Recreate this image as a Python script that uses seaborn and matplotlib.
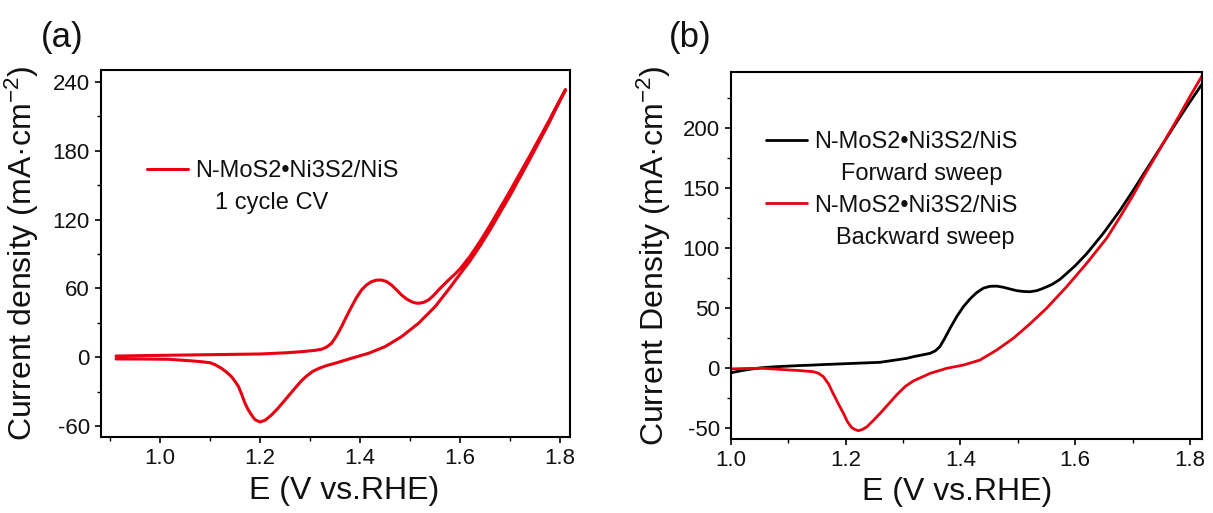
import numpy as np
import pandas as pd
import matplotlib
matplotlib.use("Agg")
import matplotlib.pyplot as plt
import seaborn as sns
from matplotlib.ticker import MultipleLocator, FormatStrFormatter
from matplotlib.lines import Line2D

# ---------------- data: panel (a) 1 cycle CV ----------------
e_fwd_a = [0.912, 0.95, 1.00, 1.05, 1.10, 1.15, 1.20, 1.25, 1.283, 1.31, 1.323, 1.333, 1.343,
           1.353, 1.363, 1.373, 1.383, 1.393, 1.403, 1.413, 1.423, 1.433, 1.443, 1.453, 1.463,
           1.473, 1.483, 1.493, 1.503, 1.51, 1.517, 1.527, 1.537, 1.547, 1.557, 1.567, 1.577,
           1.59, 1.60, 1.62, 1.64, 1.66, 1.68, 1.70, 1.72, 1.74, 1.76, 1.78, 1.795, 1.811]
j_fwd_a = [1.0, 1.3, 1.6, 1.9, 2.2, 2.5, 2.8, 3.8, 4.8, 6.0, 6.9, 8.8, 12.1,
           18.5, 26.6, 35.5, 44.0, 52.0, 58.6, 63.0, 65.9, 67.2, 67.3, 66.0, 63.0,
           58.7, 54.3, 50.8, 48.4, 47.4, 47.0, 47.8, 49.9, 53.8, 58.6, 63.0, 67.3,
           72.5, 77.0, 88.0, 101.0, 115.0, 130.0, 145.0, 160.5, 176.0, 192.0, 208.0, 220.5, 233.5]
e_bwd_a = [1.811, 1.795, 1.78, 1.76, 1.74, 1.72, 1.70, 1.68, 1.66, 1.64, 1.62, 1.60, 1.577,
           1.55, 1.517, 1.483, 1.45, 1.417, 1.383, 1.35, 1.333, 1.317, 1.305, 1.293, 1.283,
           1.27, 1.25, 1.237, 1.223, 1.21, 1.20, 1.19, 1.183, 1.176, 1.17, 1.163, 1.157, 1.15,
           1.143, 1.133, 1.123, 1.11, 1.10, 1.08, 1.057, 1.017, 0.97, 0.912]
j_bwd_a = [233.0, 219.5, 206.0, 189.5, 173.0, 157.0, 141.0, 126.0, 111.0, 97.0, 84.0, 72.5, 59.0,
           44.0, 29.6, 17.9, 9.2, 3.4, -0.9, -5.3, -7.3, -9.9, -12.5, -16.5, -20.5,
           -27.0, -37.3, -44.0, -50.4, -55.0, -56.5, -54.5, -50.4, -45.5, -40.2, -32.0, -25.7, -21.0,
           -17.0, -13.0, -9.7, -6.5, -4.8, -3.8, -3.0, -1.8, -1.6, -1.5]

# ---------------- data: panel (b) forward / backward sweeps ----------------
e_fwd_b = [1.0, 1.02, 1.04, 1.056, 1.085, 1.12, 1.143, 1.16, 1.202, 1.26, 1.306, 1.318, 1.335,
           1.347, 1.356, 1.364, 1.372, 1.382, 1.394, 1.405, 1.417, 1.428, 1.44, 1.451, 1.463,
           1.475, 1.487, 1.498, 1.51, 1.521, 1.533, 1.544, 1.56, 1.573, 1.585, 1.60, 1.62,
           1.649, 1.678, 1.70, 1.72, 1.74, 1.76, 1.78, 1.80, 1.822]
j_fwd_b = [-4.2, -2.3, -0.8, 0.1, 1.0, 1.8, 2.2, 2.6, 3.4, 4.5, 7.8, 9.2, 10.8,
           12.0, 14.0, 17.5, 24.0, 33.0, 43.0, 50.8, 57.5, 62.5, 66.3, 67.8, 68.0,
           67.0, 65.5, 64.2, 63.5, 63.3, 64.2, 66.1, 69.5, 73.5, 78.5, 85.0, 95.0,
           112.0, 131.0, 147.0, 162.0, 177.0, 192.0, 207.0, 221.5, 237.0]
e_bwd_b = [1.822, 1.80, 1.78, 1.76, 1.74, 1.72, 1.70, 1.678, 1.655, 1.62, 1.585, 1.55, 1.521,
           1.492, 1.463, 1.434, 1.405, 1.376, 1.347, 1.318, 1.304, 1.289, 1.275, 1.26, 1.248,
           1.237, 1.229, 1.222, 1.216, 1.21, 1.203, 1.196, 1.187, 1.178, 1.17, 1.161, 1.152,
           1.143, 1.12, 1.085, 1.056, 1.03, 1.0]
j_bwd_b = [244.0, 226.0, 209.0, 192.5, 176.0, 160.0, 143.0, 125.5, 108.0, 87.0, 67.5, 49.5, 36.5,
           24.5, 14.7, 6.4, 2.2, -0.5, -4.7, -11.0, -15.5, -22.5, -30.0, -38.0, -44.0,
           -49.2, -51.5, -52.5, -51.5, -49.7, -45.0, -38.0, -30.0, -21.4, -13.5, -7.5, -4.5,
           -3.3, -2.4, -1.4, -0.5, -0.6, -1.0]

label_a = "N-MoS2•Ni3S2/NiS"
sub_a = "1 cycle CV"
labels_b = ["N-MoS2•Ni3S2/NiS", "N-MoS2•Ni3S2/NiS"]
subs_b = ["Forward sweep", "Backward sweep"]
xlabel = "E (V vs.RHE)"
ylabel_a = "Current density (mA·cm$^{-2}$)"
ylabel_b = "Current Density (mA·cm$^{-2}$)"

RED = "#e60012"
BLACK = "#000000"

sns.set_theme(style="ticks")
plt.rcParams["font.family"] = ["Liberation Sans", "DejaVu Sans"]
plt.rcParams["axes.unicode_minus"] = False
plt.rcParams["mathtext.fontset"] = "custom"
plt.rcParams["mathtext.rm"] = "Liberation Sans"
plt.rcParams["mathtext.default"] = "regular"

W, H = 1213, 513
fig = plt.figure(figsize=(W / 100, H / 100), dpi=100)
axA = fig.add_axes([101 / W, 76 / H, 469 / W, 367 / H])
axB = fig.add_axes([731 / W, 74 / H, 471 / W, 367 / H])

# panel (a): closed CV loop
df_a = pd.DataFrame({"E": e_fwd_a + e_bwd_a, "J": j_fwd_a + j_bwd_a})
sns.lineplot(data=df_a, x="E", y="J", sort=False, estimator=None, color=RED,
             lw=2.2, ax=axA, legend=False)

# panel (b): forward (black) and backward (red)
df_bf = pd.DataFrame({"E": e_fwd_b, "J": j_fwd_b})
df_bb = pd.DataFrame({"E": e_bwd_b, "J": j_bwd_b})
sns.lineplot(data=df_bf, x="E", y="J", sort=False, estimator=None, color=BLACK,
             lw=2.0, ax=axB, legend=False)
sns.lineplot(data=df_bb, x="E", y="J", sort=False, estimator=None, color=RED,
             lw=2.0, ax=axB, legend=False)

def style(ax, xlim, ylim, ymaj, ymin, ylabel, xl_x, xl_y, yl_x):
    ax.set_xlim(*xlim)
    ax.set_ylim(*ylim)
    ax.xaxis.set_major_locator(MultipleLocator(0.2))
    ax.xaxis.set_minor_locator(MultipleLocator(0.1))
    ax.xaxis.set_major_formatter(FormatStrFormatter("%.1f"))
    ax.yaxis.set_major_locator(MultipleLocator(ymaj))
    ax.yaxis.set_minor_locator(MultipleLocator(ymin))
    ax.yaxis.set_major_formatter(FormatStrFormatter("%d"))
    for s in ax.spines.values():
        s.set_visible(True)
        s.set_color("black")
        s.set_linewidth(1.5)
    ax.tick_params(which="major", direction="out", length=4.5, width=1.2,
                   labelsize=16, pad=3.5, colors="black", labelcolor="#111111")
    ax.tick_params(which="minor", direction="out", length=2.8, width=1.0, colors="black")
    ax.tick_params(top=False, right=False, which="both")
    ax.set_xlabel(xlabel, fontsize=23, color="#111111")
    ax.set_ylabel(ylabel, fontsize=23, color="#111111")
    ax.xaxis.set_label_coords(xl_x, xl_y)
    ax.yaxis.set_label_coords(yl_x, 0.5)
    ax.grid(False)
    ax.set_facecolor("white")

style(axA, (0.882, 1.82), (-69.6, 250.5), 60, 30, ylabel_a, 0.519, -0.106, -0.128)
style(axB, (1.0, 1.821), (-59.4, 246.4), 50, 25, ylabel_b, 0.480, -0.1035, -0.123)

# legends
FS_LEG = 17
legA = axA.legend([Line2D([], [], color=RED, lw=2.2)], [label_a], loc="upper left",
                  bbox_to_anchor=(0.0974, 0.754), frameon=False, fontsize=FS_LEG,
                  borderpad=0, borderaxespad=0, handlelength=1.74, handletextpad=0.3)
legB = axB.legend([Line2D([], [], color=BLACK, lw=2.0), Line2D([], [], color=RED, lw=2.0)],
                  labels_b, loc="upper left", bbox_to_anchor=(0.0743, 0.839), frameon=False,
                  fontsize=FS_LEG, borderpad=0, borderaxespad=0, handlelength=1.74,
                  handletextpad=0.3, labelspacing=1.76)
for leg in (legA, legB):
    for t in leg.get_texts():
        t.set_color("#111111")

fig.canvas.draw()

def add_sublines(ax, leg, subs, indents):
    inv = ax.transAxes.inverted()
    for t, s, ind in zip(leg.get_texts(), subs, indents):
        bb = t.get_window_extent()
        cy = (bb.y0 + bb.y1) / 2
        xa, ya = inv.transform((bb.x0 + ind, cy - 32))
        ax.text(xa, ya, s, transform=ax.transAxes, fontsize=FS_LEG, va="center",
                ha="left", color="#111111")

add_sublines(axA, legA, [sub_a], [20])
add_sublines(axB, legB, subs_b, [27, 22])

fig.text(62 / W, 1 - 38 / H, "(a)", fontsize=25, ha="center", va="center", color="#111111")
fig.text(690 / W, 1 - 38 / H, "(b)", fontsize=25, ha="center", va="center", color="#111111")

fig.savefig("out.png", dpi=100, facecolor="white")
